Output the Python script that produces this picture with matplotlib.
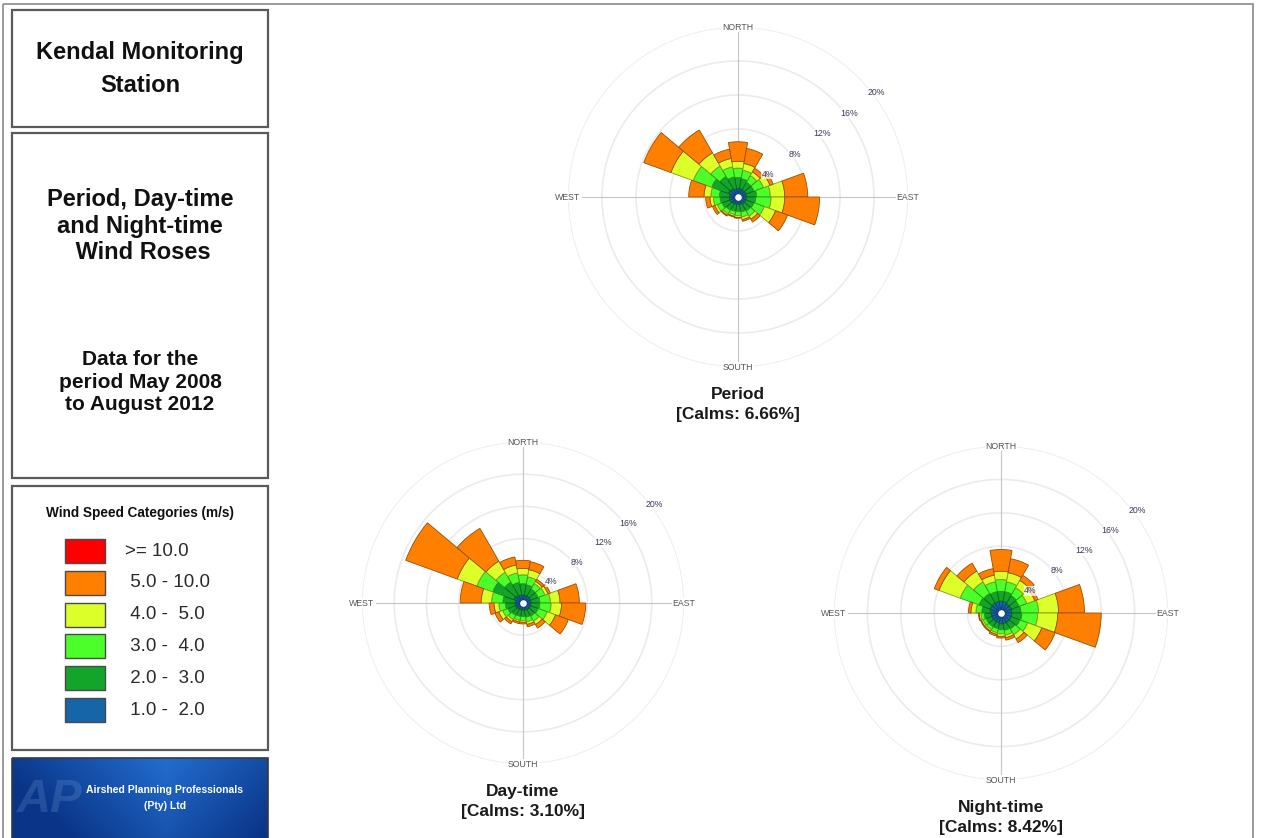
import numpy as np
import matplotlib.pyplot as plt
import matplotlib.colors as mcolors
from matplotlib.patches import Rectangle

plt.rcParams['font.family'] = ['Liberation Sans', 'DejaVu Sans']

W, H = 1261, 838

# 18 direction sectors (degrees from north, clockwise)
directions = np.arange(0, 360, 20)

speed_labels = ['>= 10.0', ' 5.0 - 10.0', ' 4.0 -  5.0', ' 3.0 -  4.0', ' 2.0 -  3.0', ' 1.0 -  2.0']
speed_colors = ['#ff0000', '#ff8000', '#dcff2a', '#4cff2a', '#12a52a', '#1565a8']

# frequency of occurrence (%) per sector and speed class
period_1_2 = [1.0, 1.0, 1.0, 1.0, 1.0, 1.0, 1.0, 1.0, 0.9, 0.9, 0.9, 0.9, 1.0, 1.0, 1.0, 1.2, 1.1, 1.0]
period_2_3 = [1.3, 1.2, 1.0, 1.0, 1.2, 1.1, 1.0, 0.9, 0.9, 0.8, 0.8, 0.9, 1.0, 1.1, 1.2, 2.1, 1.7, 1.4]
period_3_4 = [1.1, 1.0, 0.9, 1.2, 1.6, 1.8, 1.3, 0.7, 0.6, 0.5, 0.4, 0.5, 0.6, 0.8, 1.0, 2.3, 1.4, 1.2]
period_4_5 = [0.8, 0.8, 0.5, 0.8, 1.7, 1.6, 1.4, 0.4, 0.3, 0.2, 0.2, 0.2, 0.3, 0.4, 0.8, 2.8, 1.8, 1.0]
period_5_10 = [2.3, 1.8, 0.5, 0.4, 2.7, 4.1, 1.5, 0.4, 0.2, 0.1, 0.1, 0.1, 0.3, 0.5, 1.8, 3.4, 3.1, 1.1]
period_10 = [0.0] * 18

day_1_2 = [1.0, 1.0, 1.0, 1.0, 1.0, 1.0, 1.0, 1.0, 0.9, 0.9, 0.9, 0.9, 1.0, 1.0, 1.0, 1.2, 1.1, 1.0]
day_2_3 = [1.4, 1.3, 1.0, 1.0, 1.1, 1.1, 1.0, 0.9, 0.9, 0.8, 0.8, 0.9, 1.0, 1.2, 1.5, 2.8, 1.9, 1.6]
day_3_4 = [1.1, 1.0, 0.8, 0.9, 1.3, 1.4, 1.2, 0.7, 0.6, 0.5, 0.5, 0.6, 0.7, 0.8, 1.4, 2.1, 1.4, 1.2]
day_4_5 = [0.8, 0.9, 0.3, 0.4, 1.2, 1.3, 1.1, 0.5, 0.3, 0.2, 0.2, 0.3, 0.5, 0.6, 1.3, 2.6, 1.6, 1.0]
day_5_10 = [1.0, 1.0, 0.3, 0.3, 2.4, 3.0, 1.7, 0.5, 0.3, 0.2, 0.2, 0.3, 0.5, 0.6, 2.6, 6.8, 4.7, 1.0]
day_10 = [0.0] * 18

night_1_2 = [1.4, 1.4, 1.3, 1.3, 1.3, 1.3, 1.3, 1.3, 1.3, 1.3, 1.2, 1.2, 1.2, 1.2, 1.3, 1.4, 1.4, 1.4]
night_2_3 = [1.2, 1.2, 1.1, 1.0, 1.1, 1.2, 1.1, 0.9, 0.8, 0.7, 0.7, 0.7, 0.7, 0.8, 1.0, 1.4, 1.3, 1.2]
night_3_4 = [1.4, 1.2, 1.1, 1.0, 2.1, 1.9, 1.0, 0.8, 0.6, 0.5, 0.5, 0.4, 0.4, 0.4, 0.7, 2.4, 1.6, 1.2]
night_4_5 = [1.0, 1.1, 1.0, 1.0, 2.4, 2.4, 1.8, 0.6, 0.3, 0.3, 0.2, 0.2, 0.2, 0.2, 0.6, 2.7, 1.5, 0.8]
night_5_10 = [2.6, 1.7, 0.7, 0.4, 3.1, 5.2, 1.7, 0.5, 0.3, 0.2, 0.2, 0.1, 0.1, 0.1, 0.3, 0.6, 1.1, 0.8]
night_10 = [0.0] * 18

rings = [4, 8, 12, 16, 20]


def darker(c, f=0.6):
    r, g, b = mcolors.to_rgb(c)
    return (r * f, g * f, b * f)


fig = plt.figure(figsize=(W / 100, H / 100), dpi=100)
bg = fig.add_axes([0, 0, 1, 1], zorder=0)
bg.set_xlim(0, W)
bg.set_ylim(H, 0)
bg.axis('off')


def draw_rose(cx, cy, R, classes, name, calm):
    ax = fig.add_axes([(cx - R) / W, (H - cy - R) / H, 2 * R / W, 2 * R / H],
                      projection='polar', zorder=2)
    ax.set_theta_zero_location('N')
    ax.set_theta_direction(-1)
    ax.set_ylim(0, 20)
    ax.set_axis_off()

    full = np.linspace(0, 2 * np.pi, 400)
    for r in rings:
        ax.plot(full, np.full_like(full, r), color='#ebebeb', lw=1.2, zorder=1)
    for t in [0, 90, 180, 270]:
        ax.plot([np.radians(t)] * 2, [0, 20], color='#c6c6c6', lw=0.8, zorder=1)

    theta = np.radians(directions)
    bottom = np.zeros(len(directions))
    # stack from the slowest class outwards
    for vals, col in zip(classes[::-1], speed_colors[::-1]):
        vals = np.array(vals)
        m = vals > 0
        if m.any():
            ax.bar(theta[m], vals[m], width=np.radians(20), bottom=bottom[m],
                   color=col, edgecolor=darker(col), linewidth=0.6, zorder=3)
        bottom = bottom + vals
    ax.scatter([0], [0], s=14, color='white', zorder=5)

    for lab, t in [('NORTH', 0), ('EAST', 90), ('SOUTH', 180), ('WEST', 270)]:
        ax.text(np.radians(t), 20, lab, ha='center', va='center', fontsize=6.3,
                color='#555555', zorder=6,
                bbox=dict(fc='white', ec='none', pad=0.6))
    for r in rings:
        ax.text(np.radians(53), r + 0.4, f'{r}%', ha='center', va='center',
                fontsize=6.3, color='#3a3a5a', zorder=6,
                bbox=dict(fc='white', ec='none', alpha=0.75, pad=0.3))

    bg.text(cx, cy + R + 27, name, ha='center', va='center', fontsize=12.5,
            fontweight='bold', color='#1a1a1a')
    bg.text(cx, cy + R + 47, f'[Calms: {calm:.2f}%]', ha='center', va='center',
            fontsize=12.5, fontweight='bold', color='#1a1a1a')


draw_rose(738, 197, 170,
          [period_10, period_5_10, period_4_5, period_3_4, period_2_3, period_1_2],
          'Period', 6.66)
draw_rose(523, 603, 161,
          [day_10, day_5_10, day_4_5, day_3_4, day_2_3, day_1_2],
          'Day-time', 3.10)
draw_rose(1001, 613, 167,
          [night_10, night_5_10, night_4_5, night_3_4, night_2_3, night_1_2],
          'Night-time', 8.42)

# outer frame and side panel boxes
bg.add_patch(Rectangle((3, 4), 1250, 840, fill=False, ec='#8a8a8a', lw=1.2))
for y0, y1 in [(10, 127), (133, 478), (486, 750)]:
    bg.add_patch(Rectangle((12, y0), 256, y1 - y0, fill=False, ec='#5a5a5a', lw=1.6))

bg.text(140, 53, 'Kendal Monitoring', ha='center', va='center', fontsize=17,
        fontweight='bold', color='#111111')
bg.text(140, 86, 'Station', ha='center', va='center', fontsize=17,
        fontweight='bold', color='#111111')
bg.text(140, 226, 'Period, Day-time\nand Night-time\n Wind Roses', ha='center',
        va='center', fontsize=17, fontweight='bold', color='#111111',
        linespacing=1.2)
bg.text(140, 382, 'Data for the\nperiod May 2008\nto August 2012', ha='center',
        va='center', fontsize=15, fontweight='bold', color='#111111',
        linespacing=1.25)

# speed legend
bg.text(140, 513, 'Wind Speed Categories (m/s)', ha='center', va='center',
        fontsize=9.8, fontweight='bold', color='#111111')
for i, (lab, col) in enumerate(zip(speed_labels, speed_colors)):
    y = 539 + i * 31.8
    bg.add_patch(Rectangle((65, y), 40, 24, fc=col, ec='#4a4a4a', lw=1.0))
    bg.text(125, y + 12, lab, ha='left', va='center', fontsize=13.5, color='#2a2a2a')

# logo panel
gy = np.linspace(0, 1, 80)[:, None]
gx = np.linspace(0, 1, 256)[None, :]
t = np.clip(0.75 - 1.1 * np.abs(gx - 0.6) - 0.35 * gy, 0, 1)
dark = np.array(mcolors.to_rgb('#0a3588'))
bright = np.array(mcolors.to_rgb('#2a80e6'))
img = dark[None, None, :] + (bright - dark)[None, None, :] * t[:, :, None]
bg.imshow(img, extent=(12, 268, 838, 758), origin='upper', aspect='auto', zorder=1)
bg.add_patch(Rectangle((12, 758), 256, 82, fill=False, ec='#3a3a3a', lw=1.2, zorder=2))
bg.text(50, 800, 'AP', ha='center', va='center', fontsize=34, fontweight='bold',
        style='italic', color='#8fb4ea', alpha=0.2, zorder=2)
bg.text(165, 790, 'Airshed Planning Professionals', ha='center', va='center',
        fontsize=7.5, fontweight='bold', color='white', zorder=3)
bg.text(165, 806, '(Pty) Ltd', ha='center', va='center', fontsize=7.5,
        fontweight='bold', color='white', zorder=3)

fig.savefig('out.png', dpi=100)
